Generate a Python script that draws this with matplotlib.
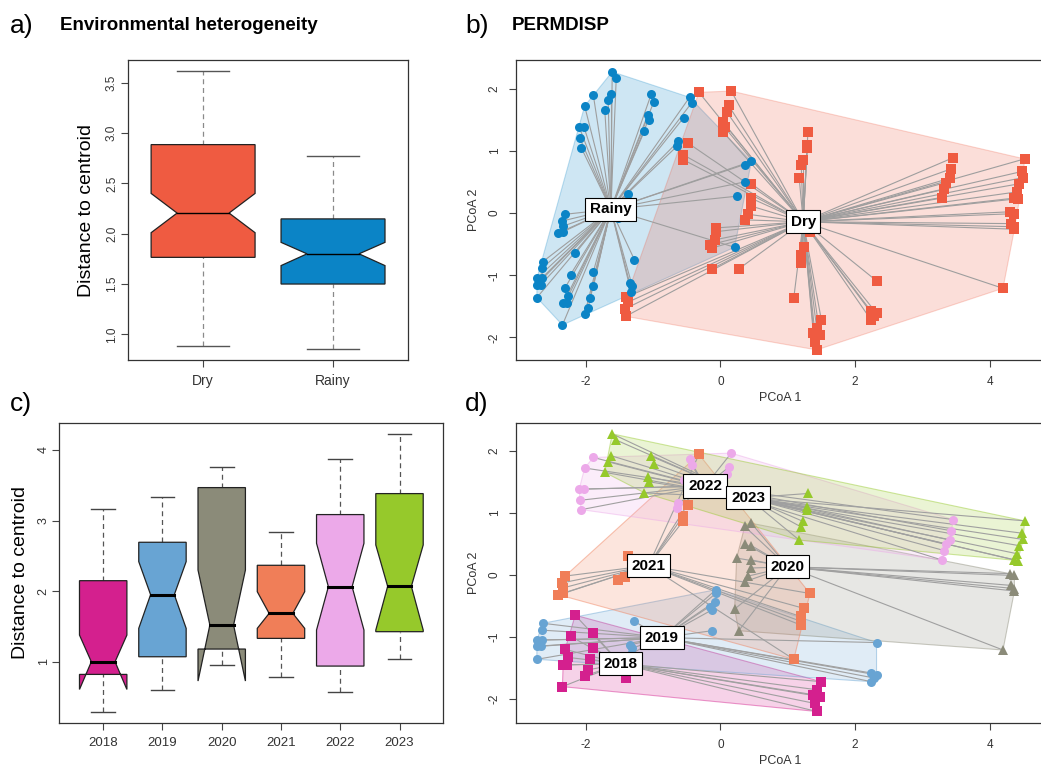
import matplotlib.pyplot as plt
import numpy as np
from matplotlib.collections import LineCollection

plt.rcParams['font.family'] = ['Liberation Sans', 'DejaVu Sans']
plt.rcParams['axes.unicode_minus'] = False

# --- a) distance to centroid by season ---
seasons = ['Dry', 'Rainy']
season_colors = ['#EF5B41', '#0B84C6']
season_whislo = [0.88, 0.855]
season_q1 = [1.765, 1.50]
season_notchlo = [2.01, 1.683]
season_med = [2.205, 1.80]
season_notchhi = [2.40, 1.914]
season_q3 = [2.885, 2.147]
season_whishi = [3.615, 2.772]

# --- c) distance to centroid by year ---
years = ['2018', '2019', '2020', '2021', '2022', '2023']
year_colors = ['#D4208E', '#68A4D3', '#8B8B79', '#F07E58', '#ECA9E9', '#96C92B']
year_markers = ['s', 'o', '^', 's', 'o', '^']
year_whislo = [0.287, 0.599, 0.953, 0.788, 0.575, 1.034]
year_q1 = [0.821, 1.071, 1.180, 1.331, 0.939, 1.426]
year_notchlo = [0.608, 1.473, 0.727, 1.473, 1.449, 1.449]
year_med = [1.00, 1.950, 1.520, 1.685, 2.063, 2.068]
year_notchhi = [1.378, 2.418, 2.299, 1.992, 2.677, 2.654]
year_q3 = [2.148, 2.692, 3.466, 2.366, 3.084, 3.381]
year_whishi = [3.159, 3.339, 3.764, 2.833, 3.877, 4.227]

# --- PCoA scores, per year and season ---
rainy_x = {
    '2018': [-2.16, -1.89, -2.23, -2.31, -1.89, -2.26, -1.94, -2.34, -2.28, -1.97, -2.02, -2.35],
    '2019': [-2.64, -2.66, -2.73, -2.66, -2.73, -2.67, -2.73, -1.28, -1.35, -1.31, -1.33],
    '2020': [0.36, 0.46, 0.36, 0.24, 0.21],
    '2021': [-2.31, -2.36, -2.34, -2.41, -2.34, -1.52, -1.42, -1.37],
    '2022': [-1.89, -2.02, -2.10, -2.03, -2.09, -2.07, -0.46, -0.43, -0.55, -0.63, -0.65],
    '2023': [-1.61, -1.55, -1.63, -1.67, -1.72, -1.03, -0.99, -1.08, -1.07, -1.13],
}
rainy_y = {
    '2018': [-0.65, -0.94, -0.99, -1.20, -1.18, -1.33, -1.36, -1.45, -1.45, -1.53, -1.63, -1.80],
    '2019': [-0.78, -0.89, -1.05, -1.05, -1.15, -1.15, -1.36, -0.75, -1.13, -1.18, -1.27],
    '2020': [0.78, 0.83, 0.50, 0.27, -0.55],
    '2021': [-0.02, -0.13, -0.21, -0.32, -0.30, -0.08, -0.03, 0.30],
    '2022': [1.89, 1.72, 1.38, 1.38, 1.20, 1.05, 1.86, 1.77, 1.53, 1.15, 1.07],
    '2023': [2.27, 2.17, 1.92, 1.82, 1.65, 1.91, 1.79, 1.58, 1.50, 1.32],
}
dry_x = {
    '2018': [-1.41, -1.40, -1.37, -1.42, 1.50, 1.43, 1.48, 1.38, 1.40, 1.43],
    '2019': [-0.07, -0.07, -0.08, -0.16, -0.12, -0.13, 2.32, 2.24, 2.32, 2.24, 2.28],
    '2020': [0.46, 0.45, 0.46, 0.41, 0.36, 0.27, 4.30, 4.37, 4.32, 4.36, 4.37, 4.20],
    '2021': [-0.32, -0.49, -0.56, -0.56, 1.33, 1.24, 1.19, 1.20, 1.20, 1.09],
    '2022': [0.16, 0.12, 0.09, 0.04, 0.06, 0.04, 3.46, 3.43, 3.41, 3.35, 3.33, 3.29],
    '2023': [1.30, 1.29, 1.29, 1.23, 1.20, 1.17, 4.52, 4.49, 4.50, 4.44, 4.41, 4.37, 4.42],
}
dry_y = {
    '2018': [-1.66, -1.35, -1.43, -1.54, -1.72, -1.85, -1.96, -1.93, -2.07, -2.20],
    '2019': [-0.24, -0.30, -0.43, -0.51, -0.56, -0.90, -1.09, -1.58, -1.61, -1.72, -1.66],
    '2020': [0.47, 0.24, 0.11, -0.02, -0.11, -0.90, 0.02, -0.01, -0.17, -0.22, -0.26, -1.21],
    '2021': [1.94, 1.13, 0.94, 0.86, -0.30, -0.54, -0.67, -0.75, -0.81, -1.36],
    '2022': [1.96, 1.73, 1.63, 1.46, 1.38, 1.30, 0.89, 0.71, 0.56, 0.49, 0.39, 0.24],
    '2023': [1.31, 1.09, 1.04, 0.86, 0.77, 0.56, 0.87, 0.67, 0.57, 0.47, 0.34, 0.24, 0.23],
}

# group centroids (betadisper)
season_cx = [1.23, -1.63]
season_cy = [-0.14, 0.06]
year_cx = [-1.49, -0.87, 1.00, -1.07, -0.23, 0.41]
year_cy = [-1.43, -1.01, 0.13, 0.15, 1.43, 1.24]


def convex_hull(xs, ys):
    pts = sorted(set(zip(xs, ys)))

    def cross(o, a, b):
        return (a[0] - o[0]) * (b[1] - o[1]) - (a[1] - o[1]) * (b[0] - o[0])

    lower, upper = [], []
    for p in pts:
        while len(lower) >= 2 and cross(lower[-2], lower[-1], p) <= 0:
            lower.pop()
        lower.append(p)
    for p in reversed(pts):
        while len(upper) >= 2 and cross(upper[-2], upper[-1], p) <= 0:
            upper.pop()
        upper.append(p)
    return np.array(lower[:-1] + upper[:-1])


def notched_box(ax, pos, lo, q1, nlo, med, nhi, q3, hi, color, med_lw, whisk_col, cap_col):
    w = 0.4
    xs = [pos - w, pos - w, pos - w / 2, pos - w, pos - w, pos + w, pos + w, pos + w / 2, pos + w, pos + w]
    ys = [q1, nlo, med, nhi, q3, q3, nhi, med, nlo, q1]
    ax.plot([pos, pos], [q3, hi], color=whisk_col, lw=0.9, ls=(0, (4, 3)), zorder=1)
    ax.plot([pos, pos], [lo, q1], color=whisk_col, lw=0.9, ls=(0, (4, 3)), zorder=1)
    ax.plot([pos - w / 2, pos + w / 2], [hi, hi], color=cap_col, lw=1.0, zorder=1)
    ax.plot([pos - w / 2, pos + w / 2], [lo, lo], color=cap_col, lw=1.0, zorder=1)
    ax.fill(xs, ys, facecolor=color, edgecolor='#222222', lw=0.9, zorder=2)
    ax.plot([pos - w / 2, pos + w / 2], [med, med], color='black', lw=med_lw, zorder=3)


def r_style(ax, xsize, ysize):
    for s in ax.spines.values():
        s.set_color('#333333')
        s.set_linewidth(0.9)
    ax.tick_params(axis='both', direction='out', length=5, width=0.8, color='#444444', labelcolor='#333333')
    ax.tick_params(axis='x', labelsize=xsize, pad=5)
    ax.tick_params(axis='y', labelsize=ysize, pad=2)
    for lab in ax.get_yticklabels():
        lab.set_rotation(90)
        lab.set_va('center')


fig = plt.figure(figsize=(10.41, 7.67), dpi=100)

# ---- a ----
ax_a = fig.add_axes([0.1227, 0.5306, 0.2696, 0.3911])
for i in range(len(seasons)):
    notched_box(ax_a, i + 1, season_whislo[i], season_q1[i], season_notchlo[i], season_med[i],
                season_notchhi[i], season_q3[i], season_whishi[i], season_colors[i], 1.0,
                '#8a8a8a', '#555555')
ax_a.set_xlim(0.42, 2.58)
ax_a.set_ylim(0.745, 3.725)
ax_a.set_xticks([1, 2])
ax_a.set_xticklabels(seasons)
ax_a.set_yticks([1.0, 1.5, 2.0, 2.5, 3.0, 3.5])
ax_a.set_yticklabels(['1.0', '1.5', '2.0', '2.5', '3.0', '3.5'])
r_style(ax_a, 10, 8.5)
ax_a.set_ylabel('Distance to centroid', fontsize=14, labelpad=8)

# ---- c ----
ax_c = fig.add_axes([0.057, 0.057, 0.3689, 0.3919])
for i in range(len(years)):
    notched_box(ax_c, i + 1, year_whislo[i], year_q1[i], year_notchlo[i], year_med[i],
                year_notchhi[i], year_q3[i], year_whishi[i], year_colors[i], 2.2,
                '#555555', '#444444')
ax_c.set_xlim(0.26, 6.74)
ax_c.set_ylim(0.129, 4.385)
ax_c.set_xticks(range(1, 7))
ax_c.set_xticklabels(years)
ax_c.set_yticks([1, 2, 3, 4])
ax_c.set_yticklabels(['1', '2', '3', '4'])
r_style(ax_c, 9.5, 9)
ax_c.set_ylabel('Distance to centroid', fontsize=14, labelpad=6)


def pcoa_frame(ax):
    ax.set_xlim(-3.04, 4.81)
    ax.set_xticks([-2, 0, 2, 4])
    ax.set_xticklabels(['-2', '0', '2', '4'])
    ax.set_yticks([-2, -1, 0, 1, 2])
    ax.set_yticklabels(['-2', '-1', '0', '1', '2'])
    r_style(ax, 8.5, 8.5)
    ax.tick_params(axis='y', pad=6)
    ax.tick_params(axis='x', pad=6)
    ax.set_xlabel('PCoA 1', fontsize=9, color='#333333', va='center')
    ax.set_ylabel('PCoA 2', fontsize=9, color='#333333', va='center')
    ax.xaxis.set_label_coords(0.5, -0.125)
    ax.yaxis.set_label_coords(-0.08, 0.5)


label_box = dict(boxstyle='square,pad=0.3', fc='white', ec='black', lw=0.8)

# ---- b ----
ax_b = fig.add_axes([0.4957, 0.530, 0.5072, 0.3918])
season_pts = []
for s in range(2):
    src_x, src_y = (dry_x, dry_y) if s == 0 else (rainy_x, rainy_y)
    xs = np.concatenate([src_x[y] for y in years])
    ys = np.concatenate([src_y[y] for y in years])
    season_pts.append((xs, ys))
for s in [1, 0]:
    xs, ys = season_pts[s]
    h = convex_hull(xs, ys)
    ax_b.fill(h[:, 0], h[:, 1], facecolor=season_colors[s], alpha=0.2, edgecolor='none', zorder=1)
    ax_b.fill(h[:, 0], h[:, 1], facecolor='none', edgecolor=season_colors[s], alpha=0.25, lw=0.8, zorder=1)
for s in range(2):
    xs, ys = season_pts[s]
    segs = [[(x, y), (season_cx[s], season_cy[s])] for x, y in zip(xs, ys)]
    ax_b.add_collection(LineCollection(segs, colors='#9e9e9e', linewidths=0.8, zorder=2))
for s in range(2):
    xs, ys = season_pts[s]
    ax_b.plot(xs, ys, ls='none', marker='s' if s == 0 else 'o', ms=6.5, mew=0,
              color=season_colors[s], zorder=3)
    ax_b.text(season_cx[s], season_cy[s], seasons[s], ha='center', va='center', fontsize=11,
              fontweight='bold', bbox=label_box, zorder=5)
ax_b.set_ylim(-2.37, 2.46)
pcoa_frame(ax_b)

# ---- d ----
ax_d = fig.add_axes([0.4957, 0.057, 0.5072, 0.3911])
for i, yr in enumerate(years):
    xs = rainy_x[yr] + dry_x[yr]
    ys = rainy_y[yr] + dry_y[yr]
    h = convex_hull(xs, ys)
    ax_d.fill(h[:, 0], h[:, 1], facecolor=year_colors[i], alpha=0.2, edgecolor='none', zorder=1)
    ax_d.fill(h[:, 0], h[:, 1], facecolor='none', edgecolor=year_colors[i], alpha=0.45, lw=0.8, zorder=1)
for i, yr in enumerate(years):
    xs = rainy_x[yr] + dry_x[yr]
    ys = rainy_y[yr] + dry_y[yr]
    segs = [[(x, y), (year_cx[i], year_cy[i])] for x, y in zip(xs, ys)]
    ax_d.add_collection(LineCollection(segs, colors='#a0a0a0', linewidths=0.8, zorder=2))
for i, yr in enumerate(years):
    xs = rainy_x[yr] + dry_x[yr]
    ys = rainy_y[yr] + dry_y[yr]
    ax_d.plot(xs, ys, ls='none', marker=year_markers[i], ms=7 if year_markers[i] == '^' else 6.5,
              mew=0, color=year_colors[i], zorder=3)
for i, yr in enumerate(years):
    ax_d.text(year_cx[i], year_cy[i], yr, ha='center', va='center', fontsize=11,
              fontweight='bold', bbox=label_box, zorder=5)
ax_d.set_ylim(-2.39, 2.44)
pcoa_frame(ax_d)

# panel letters and titles
fig.text(10 / 1041, 1 - 26 / 767, 'a)', fontsize=19, va='center', ha='left')
fig.text(60 / 1041, 1 - 25 / 767, 'Environmental heterogeneity', fontsize=13.5,
         fontweight='bold', va='center', ha='left')
fig.text(465 / 1041, 1 - 26 / 767, 'b)', fontsize=19, va='center', ha='left')
fig.text(512 / 1041, 1 - 25 / 767, 'PERMDISP', fontsize=13.5, fontweight='bold',
         va='center', ha='left')
fig.text(10 / 1041, 1 - 404 / 767, 'c)', fontsize=19, va='center', ha='left')
fig.text(465 / 1041, 1 - 404 / 767, 'd)', fontsize=19, va='center', ha='left')

fig.savefig('out.png', dpi=100)
